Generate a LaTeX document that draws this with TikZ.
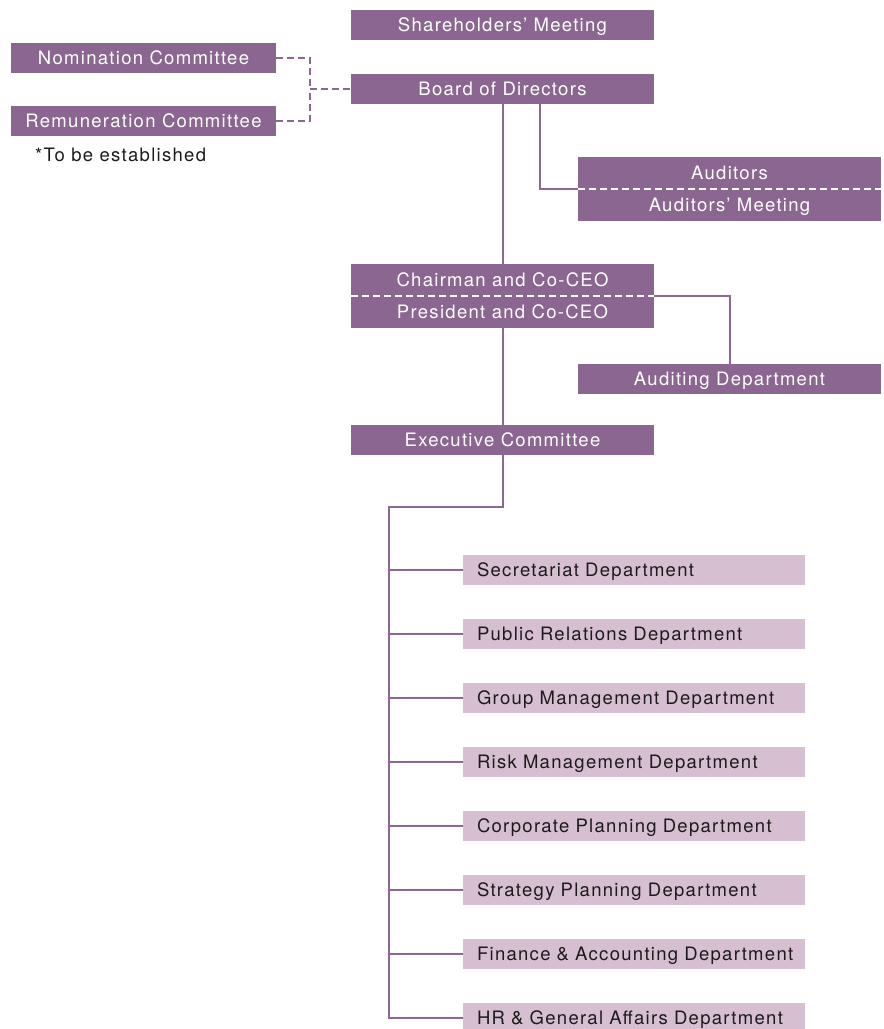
\documentclass[tikz,border=0pt]{standalone}
\usepackage{fontspec}
\setmainfont{TeX Gyre Heros}[LetterSpace=7]
\definecolor{dk}{HTML}{8A6690}
\definecolor{lt}{HTML}{D6BFD0}
\definecolor{ln}{HTML}{8A6892}
\definecolor{tx}{HTML}{1E1A1C}
\tikzset{
  fnt/.style={font=\fontsize{18.5}{20}\selectfont, text height=13.3pt, text depth=0pt},
  dbox/.style={fill=dk, text=white, minimum width=303pt, minimum height=30pt, inner sep=0pt, fnt},
  hbox/.style={dbox, minimum height=32pt},
  lbox/.style={fill=lt, text=tx, text width=314pt, inner xsep=14pt, inner ysep=0pt, minimum height=30pt, align=left, fnt},
  conn/.style={draw=ln, line width=2pt},
  dconn/.style={draw=ln, line width=2pt, dash pattern=on 7pt off 4pt},
  wdash/.style={draw=white, line width=2pt, dash pattern=on 7pt off 4pt},
}
\begin{document}
\begin{tikzpicture}[x=1pt,y=-1pt]
\useasboundingbox (0,0) rectangle (884,1029);
\node[dbox] (sh) at (502.5,25) {Shareholders’ Meeting};
\node[dbox] (bod) at (502.5,89) {Board of Directors};
\node[dbox, minimum width=265pt] (nom) at (143.5,58) {Nomination Committee};
\node[dbox, minimum width=265pt] (rem) at (143.5,121) {Remuneration Committee};
\node[anchor=west, inner sep=0pt, text=tx, fnt] (note) at (35,155) {*To be established};
\node[hbox] (audA) at (729.5,173) {Auditors};
\node[hbox] (audB) at (729.5,205) {Auditors’ Meeting};
\node[hbox] (chA) at (502.5,280) {Chairman and Co-CEO};
\node[hbox] (chB) at (502.5,312) {President and Co-CEO};
\node[dbox] (adep) at (729.5,379) {Auditing Department};
\node[dbox] (exec) at (502.5,440) {Executive Committee};
\foreach \t/\y [count=\i] in {Secretariat Department/569.5,Public Relations Department/633.5,Group Management Department/697.5,Risk Management Department/762,Corporate Planning Department/826,Strategy Planning Department/890,Finance \& Accounting Department/954,HR \& General Affairs Department/1018}
  \node[lbox] (d\i) at (634,\y) {\mbox{\t}};
\draw[wdash] (audA.south west) -- (audA.south east);
\draw[wdash] (chA.south west) -- (chA.south east);
% connectors
\coordinate (j) at (310,89);
\draw[dconn] (nom.east) -| (j);
\draw[dconn] (rem.east) -| (j);
\draw[dconn] (j) -- (bod.west);
\draw[conn] (bod.south) -- (chA.north);
\draw[conn] ([xshift=37.5pt]bod.south) |- (audA.south west);
\draw[conn] (chA.south east) -| (adep.north);
\draw[conn] (chB.south) -- (exec.north);
\coordinate (tr) at (389,507);
\draw[conn] (exec.south) |- (tr) -- (tr |- d8.west) -- (d8.west);
\foreach \i in {1,...,7} \draw[conn] (tr |- d\i.west) -- (d\i.west);
\end{tikzpicture}
\end{document}
